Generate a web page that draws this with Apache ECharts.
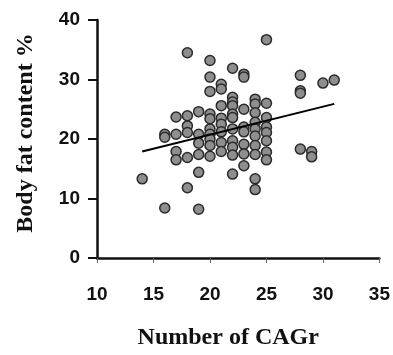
<!DOCTYPE html>
<html>
<head>
<meta charset="utf-8">
<script src="https://cdn.jsdelivr.net/npm/echarts@6/dist/echarts.min.js"></script>
<style>
  html, body { margin: 0; padding: 0; background: #fff; }
  #chart { width: 393px; height: 355px; }
</style>
</head>
<body>
<div id="chart"></div>
<script>
// CAG repeat counts (x columns) and the body fat values seen in each column
var cagRepeats = [14, 16, 17, 18, 19, 20, 21, 22, 23, 24, 25, 28, 29, 30, 31];
var bodyFat = [
    [13.3],
    [8.4, 20.8, 20.3],
    [23.7, 20.8, 17.9, 16.5],
    [34.5, 23.9, 22.2, 21.1, 16.9, 11.8],
    [24.6, 20.8, 19.3, 17.4, 14.4, 8.2],
    [33.2, 30.4, 28, 24.2, 23.4, 21.7, 20.8, 20, 18.9, 17.1],
    [29.2, 28.4, 25.6, 23.5, 22.5, 21.2, 19.4, 17.9],
    [31.9, 27, 26.2, 25.6, 24.2, 23.6, 21.7, 19.7, 18.6, 17.3, 14.1],
    [30.9, 30.4, 25, 22, 21.2, 19.1, 17.5, 15.5],
    [26.7, 25.9, 24.4, 22.8, 21.7, 20.5, 18.9, 17.4, 13.3, 11.5],
    [36.7, 26, 23.6, 22, 21.1, 19.7, 17.8, 16.5],
    [30.7, 28.1, 27.7, 18.3],
    [17.9, 17.0],
    [29.4],
    [29.9]
];
// regression line ends
var trendX = [14, 31];
var trendY = [17.9, 25.9];

var xTicks = { min: 10, max: 35, interval: 5 };
var yTicks = { min: 0, max: 40, interval: 10 };

var points = [];
cagRepeats.forEach(function (c, i) {
    bodyFat[i].forEach(function (v) {
        points.push([c, v]);
    });
});
var trend = trendX.map(function (x, i) { return [x, trendY[i]]; });

var chart = echarts.init(document.getElementById('chart'));
var labelFont = { color: '#111', fontFamily: 'Liberation Sans, Arial, sans-serif', fontWeight: 'bold', fontSize: 19 };
var nameFont = { color: '#111', fontFamily: 'Liberation Serif, Times New Roman, serif', fontWeight: 'bold', fontSize: 24 };

chart.setOption({
    animation: false,
    grid: { left: 97, right: 11, top: 20, bottom: 96 },
    xAxis: {
        type: 'value',
        min: xTicks.min, max: xTicks.max, interval: xTicks.interval,
        name: 'Number of CAGr',
        nameLocation: 'middle',
        nameGap: 68,
        nameTextStyle: Object.assign({ padding: [0, 20, 0, 0] }, nameFont),
        axisLine: { onZero: false, lineStyle: { color: '#111', width: 2.5 } },
        axisTick: { length: 5, lineStyle: { color: '#666', width: 1 } },
        axisLabel: Object.assign({ margin: 27 }, labelFont),
        splitLine: { show: false }
    },
    yAxis: {
        type: 'value',
        min: yTicks.min, max: yTicks.max, interval: yTicks.interval,
        name: 'Body fat content %',
        nameLocation: 'middle',
        nameGap: 59,
        nameTextStyle: Object.assign({ padding: [0, 0, 0, 12] }, nameFont),
        axisLine: { show: true, lineStyle: { color: '#111', width: 2.5 } },
        axisTick: { show: true, length: 9, lineStyle: { color: '#111', width: 2 } },
        axisLabel: Object.assign({ margin: 17 }, labelFont),
        splitLine: { show: false }
    },
    series: [
        {
            type: 'scatter',
            data: points,
            symbol: 'circle',
            symbolSize: 10,
            itemStyle: { color: '#8e8e8e', borderColor: '#2a2a2a', borderWidth: 1.5, opacity: 1 },
            z: 2
        },
        {
            type: 'line',
            data: trend,
            symbol: 'none',
            lineStyle: { color: '#000', width: 2 },
            z: 3
        }
    ]
});
</script>
</body>
</html>
